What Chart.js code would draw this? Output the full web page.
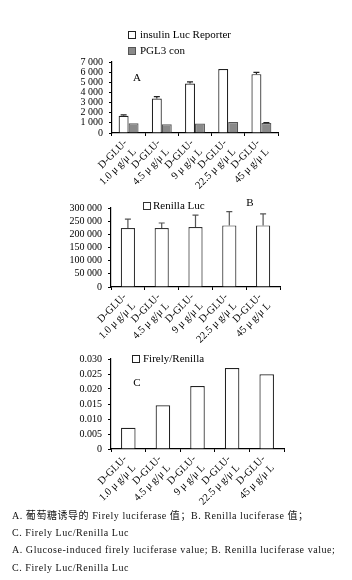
<!DOCTYPE html>
<html><head><meta charset="utf-8">
<script src="https://cdn.jsdelivr.net/npm/chart.js@4/dist/chart.umd.min.js"></script>
<style>
html,body{margin:0;padding:0;background:#fff;}
body{width:352px;height:580px;position:relative;overflow:hidden;}
.cv{position:absolute;left:0;width:352px;}
.cap{position:absolute;left:12px;font:10px "Liberation Serif","Noto Sans CJK SC",serif;color:#111;white-space:nowrap;line-height:12px;letter-spacing:0.55px;}
</style></head><body>
<div class="cv" style="top:0;height:200px"><canvas id="cA"></canvas></div>
<div class="cv" style="top:190px;height:160px"><canvas id="cB"></canvas></div>
<div class="cv" style="top:340px;height:175px"><canvas id="cC"></canvas></div>
<div class="cap" style="top:510px">A. 葡萄糖诱导的 Firely luciferase 值；B. Renilla luciferase 值；</div>
<div class="cap" style="top:527px">C. Firely Luc/Renilla Luc</div>
<div class="cap" style="top:544px">A. Glucose-induced firely luciferase value; B. Renilla luciferase value;</div>
<div class="cap" style="top:562px">C. Firely Luc/Renilla Luc</div>
<script>
// ---- data ----
const categories = [["D-GLU-","1.0 μ g/μ L"],["D-GLU-","4.5 μ g/μ L"],["D-GLU-","9 μ g/μ L"],["D-GLU-","22.5 μ g/μ L"],["D-GLU-","45 μ g/μ L"]];
const insulinLuc = [1700, 3400, 4870, 6300, 5800];
const insulinLucErr = [80, 180, 180, 0, 170];
const pgl3Con = [950, 870, 940, 1080, 980];
const pgl3ConErr = [0, 0, 0, 0, 40];
const renillaLuc = [224000, 224000, 228000, 234000, 234000];
const renillaLucErr = [34000, 19000, 45000, 52000, 44000];
const firelyRenilla = [0.0071, 0.0146, 0.0210, 0.0270, 0.0249];
const ticksA = [0, 1000, 2000, 3000, 4000, 5000, 6000, 7000];
const ticksB = [0, 50000, 100000, 150000, 200000, 250000, 300000];
const ticksC = [0, 0.005, 0.010, 0.015, 0.020, 0.025, 0.030];

const FONT = "Liberation Serif";
Chart.defaults.font.family = FONT;
Chart.defaults.color = "#000";
Chart.defaults.animation = false;

function fmtSpace(v){ return String(v).replace(/\B(?=(\d{3})+(?!\d))/g, " "); }

const errPlugin = {
  id: "errbars",
  afterDatasetsDraw(chart){
    const ctx = chart.ctx; const y = chart.scales.y;
    chart.data.datasets.forEach((ds, di) => {
      if (!ds.errors) return;
      const meta = chart.getDatasetMeta(di);
      meta.data.forEach((bar, i) => {
        const e = ds.errors[i]; if (!e) return;
        const x = bar.x; const y0 = y.getPixelForValue(ds.data[i]); const y1 = y.getPixelForValue(ds.data[i] + e);
        ctx.save(); ctx.strokeStyle = ds.errColor || "#333"; ctx.lineWidth = 1.2;
        ctx.beginPath(); ctx.moveTo(x, y0); ctx.lineTo(x, y1);
        ctx.moveTo(x - 3, y1); ctx.lineTo(x + 3, y1); ctx.stroke(); ctx.restore();
      });
    });
  }
};
const annotPlugin = {
  id: "annot",
  afterDraw(chart, args, opts){
    const ctx = chart.ctx;
    ctx.save(); ctx.textBaseline = "middle"; ctx.textAlign = "left";
    (opts.legend || []).forEach(it => {
      const ds = chart.data.datasets[it.ds];
      ctx.fillStyle = ds.backgroundColor; ctx.strokeStyle = ds.borderColor; ctx.lineWidth = 1;
      ctx.fillRect(it.x, it.y - 4, 8, 8); ctx.strokeRect(it.x + 0.5, it.y - 3.5, 7, 7);
      ctx.fillStyle = "#000"; ctx.font = "11px " + FONT;
      ctx.fillText(ds.label, it.x + it.gap, it.y + 0.5);
    });
    if (opts.letter){
      ctx.font = "11px " + FONT; ctx.fillStyle = "#000"; ctx.textAlign = "center";
      ctx.fillText(opts.letter.t, opts.letter.x, opts.letter.y);
    }
    ctx.restore();
  }
};

function makeChart(id, datasets, tickVals, tickFmt, pad, yW, catPct, annot){
  return new Chart(document.getElementById(id), {
    type: "bar",
    data: { labels: categories, datasets },
    plugins: [errPlugin, annotPlugin],
    options: {
      responsive: true, maintainAspectRatio: false,
      layout: { padding: pad },
      plugins: { legend: { display: false }, tooltip: { enabled: false }, annot },
      datasets: { bar: { categoryPercentage: catPct, barPercentage: 1.0, borderWidth: 1.2 } },
      scales: {
        x: {
          afterFit(s){ s.height = 62; },
          grid: { display: true, drawOnChartArea: false, tickLength: 3, color: "#000", offset: true },
          border: { display: true, color: "#000", width: 1.2 },
          ticks: { font: { size: 10.5 }, color: "#000", minRotation: 45, maxRotation: 45, autoSkip: false, padding: 1, labelOffset: -3 }
        },
        y: {
          min: tickVals[0], max: tickVals[tickVals.length - 1],
          afterFit(s){ s.width = yW; },
          afterBuildTicks(s){ s.ticks = tickVals.map(v => ({ value: v })); },
          grid: { display: true, drawOnChartArea: false, tickLength: 3, color: "#000" },
          border: { display: true, color: "#000", width: 1.2 },
          ticks: { autoSkip: false, font: { size: 10 }, color: "#000", padding: 6, callback: tickFmt }
        }
      }
    }
  });
}

makeChart("cA", [
  { label: "insulin Luc Reporter", data: insulinLuc, errors: insulinLucErr, backgroundColor: "#ffffff", borderColor: "#222", errColor: "#222" },
  { label: "PGL3 con", data: pgl3Con, errors: pgl3ConErr, backgroundColor: "#8a8a8a", borderColor: "#555", errColor: "#222" }
], ticksA, v => fmtSpace(v), { top: 62, left: 72, right: 74, bottom: 5 }, 40, 0.6,
  { legend: [{ ds: 0, x: 128, y: 35, gap: 12 }, { ds: 1, x: 128, y: 51, gap: 12 }], letter: { t: "A", x: 137, y: 78 } });

makeChart("cB", [
  { label: "Renilla Luc", data: renillaLuc, errors: renillaLucErr, backgroundColor: "#ffffff", borderColor: "#333", errColor: "#555" }
], ticksB, v => fmtSpace(v), { top: 18, left: 61, right: 72, bottom: 1 }, 50, 0.42,
  { legend: [{ ds: 0, x: 143, y: 16, gap: 10 }], letter: { t: "B", x: 250, y: 13 } });

makeChart("cC", [
  { label: "Firely/Renilla", data: firelyRenilla, backgroundColor: "#ffffff", borderColor: "#222" }
], ticksC, v => v === 0 ? "0" : v.toFixed(3), { top: 19, left: 66, right: 68, bottom: 4 }, 45, 0.42,
  { legend: [{ ds: 0, x: 132, y: 19, gap: 11 }], letter: { t: "C", x: 137, y: 43 } });
</script>
</body></html>
